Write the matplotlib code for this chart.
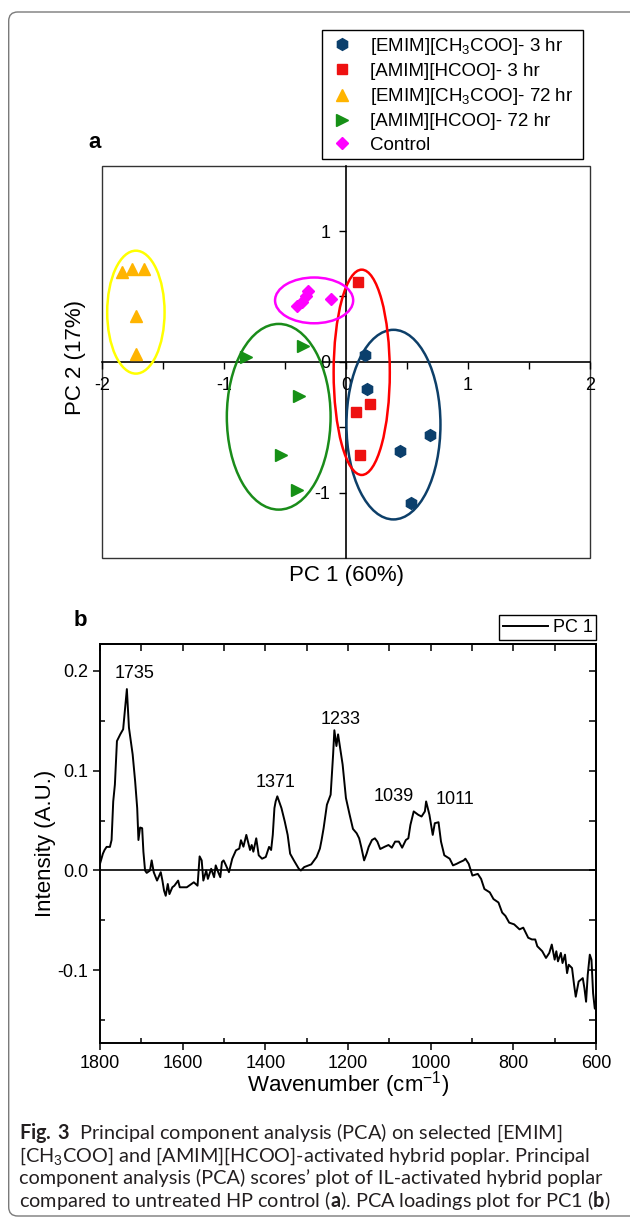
import matplotlib
matplotlib.use('Agg')
import matplotlib.pyplot as plt
import numpy as np
from matplotlib.patches import Ellipse, Rectangle, FancyBboxPatch
from matplotlib.ticker import MultipleLocator, FixedLocator, FormatStrFormatter

plt.rcParams['font.family'] = ['Liberation Sans', 'DejaVu Sans']
plt.rcParams['axes.unicode_minus'] = False
plt.rcParams['mathtext.fontset'] = 'custom'
plt.rcParams['mathtext.rm'] = 'Liberation Sans'
plt.rcParams['mathtext.bf'] = 'Lato:bold'

# ---------------- data: panel a (PCA scores) ----------------
group_labels = ['[EMIM][CH$_3$COO]- 3 hr', '[AMIM][HCOO]- 3 hr',
                '[EMIM][CH$_3$COO]- 72 hr', '[AMIM][HCOO]- 72 hr', 'Control']

emim3_pc1 = [0.16, 0.17, 0.44, 0.69, 0.53]
emim3_pc2 = [0.05, -0.21, -0.68, -0.56, -1.08]
amim3_pc1 = [0.10, 0.08, 0.20, 0.12]
amim3_pc2 = [0.61, -0.38, -0.32, -0.71]
emim72_pc1 = [-1.83, -1.75, -1.65, -1.72, -1.72]
emim72_pc2 = [0.69, 0.71, 0.71, 0.35, 0.06]
amim72_pc1 = [-0.82, -0.35, -0.38, -0.53, -0.40]
amim72_pc2 = [0.04, 0.12, -0.26, -0.71, -0.98]
ctrl_pc1 = [-0.40, -0.36, -0.31, -0.33, -0.12]
ctrl_pc2 = [0.43, 0.46, 0.54, 0.50, 0.48]

# group ellipses (center x, center y, width, height)
ell_cx = [0.39, 0.13, -1.72, -0.55, -0.26]
ell_cy = [-0.48, -0.08, 0.38, -0.42, 0.47]
ell_w = [0.77, 0.46, 0.47, 0.85, 0.64]
ell_h = [1.45, 1.57, 0.94, 1.42, 0.35]

# ---------------- data: panel b (PC1 loadings) ----------------
wavenumber = [1800, 1793, 1789, 1784, 1776, 1772, 1768, 1764, 1759, 1751, 1744, 1735,
              1730, 1721, 1715, 1710, 1707, 1703, 1698, 1695, 1691, 1687, 1679, 1675,
              1670, 1662, 1653, 1649, 1645, 1641, 1636, 1632, 1625, 1620, 1611, 1607,
              1590, 1573, 1564, 1559, 1554, 1550, 1543, 1539, 1531, 1524, 1520, 1514,
              1509, 1505, 1501, 1497, 1488, 1480, 1471, 1463, 1459, 1453, 1446, 1437,
              1433, 1429, 1422, 1416, 1408, 1399, 1391, 1386, 1382, 1378, 1375, 1371,
              1361, 1353, 1346, 1340, 1331, 1319, 1314, 1306, 1289, 1276, 1268, 1264,
              1259, 1251, 1242, 1236, 1233, 1228, 1224, 1219, 1213, 1205, 1196, 1188,
              1179, 1173, 1168, 1161, 1155, 1150, 1142, 1135, 1129, 1122, 1111, 1102,
              1094, 1086, 1077, 1069, 1060, 1054, 1049, 1041, 1030, 1022, 1014, 1011,
              1003, 995, 990, 981, 975, 970, 967, 954, 946, 937, 929, 920, 916, 908,
              899, 886, 878, 870, 857, 848, 836, 827, 819, 810, 798, 785, 776, 764,
              755, 747, 742, 730, 721, 713, 707, 700, 696, 692, 685, 681, 675, 670,
              666, 658, 653, 649, 642, 632, 628, 624, 620, 615, 611, 607, 603, 600]
intensity = [0.0067, 0.0168, 0.0205, 0.0236, 0.0236, 0.0305, 0.0691, 0.0859, 0.1295, 0.1362, 0.1413, 0.1815,
             0.1430, 0.1161, 0.0893, 0.0624, 0.0305, 0.0430, 0.0423, 0.0188, 0.0, -0.0024, 0.0, 0.0101,
             -0.0017, -0.0101, -0.0017, -0.0101, -0.0202, -0.0253, -0.0135, -0.0236, -0.0168, -0.0152, -0.0101, -0.0168,
             -0.0168, -0.0118, -0.0152, 0.0141, 0.0101, -0.0101, 0.0, -0.0084, 0.0017, -0.0067, 0.0051, -0.0017,
             -0.0067, 0.0084, 0.0101, 0.0067, -0.0017, 0.0118, 0.0202, 0.0219, 0.0303, 0.0238, 0.0356, 0.0205,
             0.0255, 0.0188, 0.0322, 0.0152, 0.0118, 0.0135, 0.0236, 0.0205, 0.0356, 0.0624, 0.0691, 0.0742,
             0.0624, 0.0490, 0.0356, 0.0168, 0.0101, 0.0017, 0.0, 0.0034, 0.0061, 0.0135, 0.0219, 0.0303,
             0.0423, 0.0658, 0.0758, 0.1161, 0.1403, 0.1245, 0.1362, 0.1228, 0.1060, 0.0725, 0.0557, 0.0416,
             0.0372, 0.0322, 0.0236, 0.0101, 0.0168, 0.0236, 0.0305, 0.0322, 0.0289, 0.0215, 0.0238, 0.0255,
             0.0228, 0.0289, 0.0289, 0.0228, 0.0305, 0.0322, 0.0456, 0.0591, 0.0557, 0.0540, 0.0591, 0.0691,
             0.0557, 0.0356, 0.0473, 0.0483, 0.0289, 0.0205, 0.0152, 0.0118, 0.0051, 0.0067, 0.0084, 0.0101, 0.0118, 0.0067,
             -0.0051, -0.0034, -0.0084, -0.0185, -0.0219, -0.0286, -0.0320, -0.0421, -0.0455, -0.0522, -0.0539, -0.0589, -0.0572, -0.0673,
             -0.0690, -0.0690, -0.0758, -0.0808, -0.0875, -0.0825, -0.0741, -0.0892, -0.0808, -0.0909, -0.0825, -0.0926, -0.0842, -0.1027,
             -0.0943, -0.0976, -0.1145, -0.1263, -0.1111, -0.1077, -0.1178, -0.1313, -0.1044, -0.0842, -0.0892, -0.1229, -0.1380, -0.1390]

peak_labels = ['1735', '1371', '1233', '1039', '1011']
peak_label_x = [1717, 1376, 1219, 1090, 941]
peak_label_y = [0.197, 0.0876, 0.151, 0.074, 0.071]

# ---------------- figure ----------------
W, H = 630, 1225
fig = plt.figure(figsize=(W / 100, H / 100), dpi=100)

# card border
card = FancyBboxPatch((0.087, 0.09), 6.5, 12.04,
                      boxstyle='round,pad=0,rounding_size=0.09',
                      transform=fig.dpi_scale_trans, fill=False,
                      ec='#7a7a7a', lw=1.0)
fig.patches.append(card)

def fx(px):
    return px / W

def fy(py):
    return 1 - py / H

# ---------------- panel a ----------------
ax1 = fig.add_axes([fx(101.7), fy(558), fx(590) - fx(101.7), fy(165.7) - fy(558)])
ax1.set_xlim(-2, 2)
ax1.set_ylim(-1.5, 1.5)
ax1.spines['left'].set_position(('data', 0))
ax1.spines['bottom'].set_position(('data', 0))
ax1.spines['top'].set_visible(False)
ax1.spines['right'].set_visible(False)
for s in ('left', 'bottom'):
    ax1.spines[s].set_linewidth(1.2)
ax1.add_patch(Rectangle((0, 0), 1, 1, transform=ax1.transAxes, fill=False,
                        lw=1.0, ec='#333333', clip_on=False, zorder=0.5))
ax1.xaxis.set_major_locator(FixedLocator([-2, -1, 0, 1, 2]))
ax1.xaxis.set_minor_locator(FixedLocator([-1.5, -0.5, 0.5, 1.5]))
ax1.yaxis.set_major_locator(FixedLocator([-1, 0, 1]))
ax1.yaxis.set_minor_locator(FixedLocator([-0.5, 0.5]))
ax1.xaxis.set_major_formatter(FormatStrFormatter('%d'))
ax1.yaxis.set_major_formatter(FormatStrFormatter('%d'))
ax1.tick_params(which='both', direction='out', length=5, width=1.0, labelsize=13, pad=6)

ell_colors = ['#0d3f69', '#ff0000', '#ffff00', '#1a8c1a', '#ff00ff']
for cx, cy, w, h, c in zip(ell_cx, ell_cy, ell_w, ell_h, ell_colors):
    ax1.add_patch(Ellipse((cx, cy), w, h, fill=False, ec=c, lw=1.8, zorder=3))

h1, = ax1.plot(emim3_pc1, emim3_pc2, ls='none', marker='h', ms=8.5, color='#0b3f6c', zorder=4)
h2, = ax1.plot(amim3_pc1, amim3_pc2, ls='none', marker='s', ms=6.5, color='#ee1111', zorder=4)
h3, = ax1.plot(emim72_pc1, emim72_pc2, ls='none', marker='^', ms=8, color='#ffb400', zorder=4)
h4, = ax1.plot(amim72_pc1, amim72_pc2, ls='none', marker='>', ms=8, color='#169016', zorder=4)
h5, = ax1.plot(ctrl_pc1, ctrl_pc2, ls='none', marker='D', ms=6.5, color='#ff00ff', zorder=4)

fig.text(fx(346), fy(576), 'PC 1 (60%)', ha='center', va='center', fontsize=16)
fig.text(fx(76), fy(358), 'PC 2 (17%)', ha='center', va='center', rotation=90, fontsize=16)
fig.text(fx(95), fy(142), 'a', ha='center', va='center', fontsize=16, fontweight='bold')

leg1 = fig.legend([h1, h2, h3, h4, h5], group_labels, loc='upper left',
                  bbox_to_anchor=(fx(322), fy(160), fx(583) - fx(322), fy(30) - fy(160)),
                  mode='expand', fontsize=13.5, frameon=True, fancybox=False,
                  edgecolor='black', framealpha=1, borderpad=0.3, handlelength=1.5,
                  handletextpad=0.75, labelspacing=0.33, borderaxespad=0)
leg1.get_frame().set_linewidth(1.0)

# ---------------- panel b ----------------
ax2 = fig.add_axes([fx(100), fy(1043), fx(596) - fx(100), fy(644.3) - fy(1043)])
ax2.plot(wavenumber, intensity, color='black', lw=1.4, label='PC 1')
ax2.axhline(0, color='black', lw=1.2)
ax2.set_xlim(1800, 600)
ax2.set_ylim(-0.1726, 0.2263)
for s in ax2.spines.values():
    s.set_linewidth(1.4)
ax2.xaxis.set_major_locator(MultipleLocator(200))
ax2.xaxis.set_minor_locator(MultipleLocator(100))
ax2.yaxis.set_major_locator(MultipleLocator(0.1))
ax2.yaxis.set_minor_locator(MultipleLocator(0.05))
ax2.yaxis.set_major_formatter(FormatStrFormatter('%.1f'))
ax2.tick_params(which='major', direction='out', length=5, width=1.1, labelsize=13)
ax2.tick_params(which='minor', direction='in', length=3.5, width=1.1)

sec_x = ax2.secondary_xaxis('top')
sec_x.set_xticks(np.arange(600, 1801, 100))
sec_x.tick_params(direction='in', length=5, width=1.1, labeltop=False)
sec_x.spines['top'].set_linewidth(1.4)
sec_y = ax2.secondary_yaxis('right')
sec_y.set_yticks(np.arange(-0.15, 0.21, 0.05))
sec_y.tick_params(direction='in', length=5, width=1.1, labelright=False)
sec_y.spines['right'].set_linewidth(1.4)

for lab, xx, yy in zip(peak_labels, peak_label_x, peak_label_y):
    ax2.text(xx, yy, lab, ha='center', va='center', fontsize=13)

leg2 = ax2.legend(loc='lower right', bbox_to_anchor=(1.0, 1.012), fontsize=13,
                  frameon=True, fancybox=False, edgecolor='black', framealpha=1,
                  borderpad=0.2, handlelength=2.5, handletextpad=0.25, borderaxespad=0)
leg2.get_frame().set_linewidth(1.0)

fig.text(fx(348), fy(1085), 'Wavenumber (cm$^{-1}$)', ha='center', va='center', fontsize=16)
fig.text(fx(46), fy(843), 'Intensity (A.U.)', ha='center', va='center', rotation=90, fontsize=16)
fig.text(fx(80), fy(620), 'b', ha='center', va='center', fontsize=16, fontweight='bold')

# ---------------- caption ----------------
cap_lines = [r'$\mathbf{Fig.\,3}$  Principal component analysis (PCA) on selected [EMIM]',
             r'[CH$_3$COO] and [AMIM][HCOO]-activated hybrid poplar. Principal',
             'component analysis (PCA) scores\u2019 plot of IL-activated hybrid poplar',
             r'compared to untreated HP control ($\mathbf{a}$). PCA loadings plot for PC1 ($\mathbf{b}$)']
cap_y = [1133, 1156, 1178, 1200]
cap_texts = []
for line, yy in zip(cap_lines, cap_y):
    cap_texts.append(fig.text(fx(19), fy(yy), line, ha='left', va='center',
                              fontsize=12, family=['Lato', 'DejaVu Sans'], color='#231f20'))
fig.canvas.draw()
r = fig.canvas.get_renderer()
wpx = cap_texts[3].get_window_extent(r).width
scale = (608 - 19) / wpx
for t in cap_texts:
    t.set_fontsize(12 * scale)

fig.savefig('out.png', dpi=100)
